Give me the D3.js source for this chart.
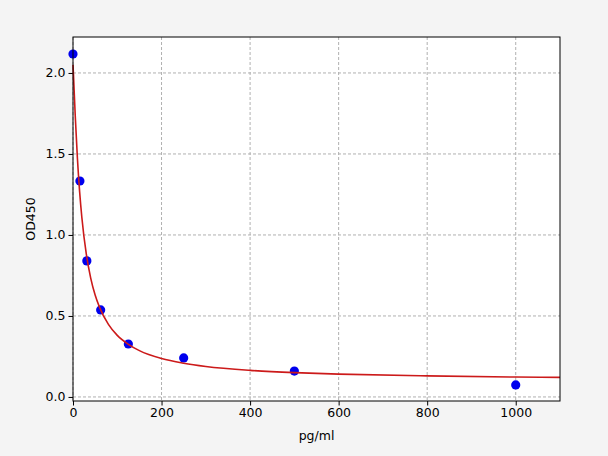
<!DOCTYPE html>
<html>
<head>
<meta charset="utf-8">
<script src="https://cdn.jsdelivr.net/npm/d3@7"></script>
<style>
  body { margin: 0; background: #f4f4f4; }
  text { font-family: "DejaVu Sans", sans-serif; }
</style>
</head>
<body>
<div id="chart"></div>
<script>

// measured standards
var concX = [0, 15.625, 31.25, 62.5, 125, 250, 500, 1000];
var odY   = [2.117, 1.333, 0.84, 0.537, 0.327, 0.241, 0.16, 0.074];

// fitted curve
var curveX = [0, 1, 2, 5, 10, 15, 20, 30, 40, 50, 60, 80, 100, 125, 150, 200, 250, 300, 400, 500, 600, 800, 1000, 1100];
var curveY = [2.05, 1.994, 1.929, 1.739, 1.472, 1.266, 1.108, 0.883, 0.734, 0.629, 0.553, 0.448, 0.38, 0.325, 0.286, 0.237, 0.208, 0.188, 0.164, 0.15, 0.141, 0.13, 0.123, 0.121];

var xTicks = [0, 200, 400, 600, 800, 1000];
var yTicks = [0.0, 0.5, 1.0, 1.5, 2.0];

var W = 608, H = 456;
var margin = {top: 37, right: 48, bottom: 55, left: 73},
    width = W - margin.left - margin.right,
    height = H - margin.top - margin.bottom;

var svg = d3.select("#chart")
  .append("svg")
    .attr("width", W)
    .attr("height", H)
  .append("g")
    .attr("transform", "translate(" + margin.left + "," + margin.top + ")");

var x = d3.scaleLinear().domain([0, 1100]).range([0, width]);
var y = d3.scaleLinear().domain([-0.025, 2.222]).range([height, 0]);

svg.append("rect")
  .attr("width", width)
  .attr("height", height)
  .attr("fill", "#fff");

// grid
svg.append("g")
  .selectAll("line")
  .data(xTicks)
  .enter().append("line")
    .attr("x1", function(d) { return x(d); })
    .attr("x2", function(d) { return x(d); })
    .attr("y1", 0)
    .attr("y2", height)
    .attr("stroke", "#b0b0b0")
    .attr("stroke-dasharray", "3,2");

svg.append("g")
  .selectAll("line")
  .data(yTicks)
  .enter().append("line")
    .attr("x1", 0)
    .attr("x2", width)
    .attr("y1", function(d) { return y(d); })
    .attr("y2", function(d) { return y(d); })
    .attr("stroke", "#b0b0b0")
    .attr("stroke-dasharray", "3,2");

// axes
var xAxis = d3.axisBottom(x).tickValues(xTicks).tickSize(4.5).tickPadding(3).tickFormat(d3.format("d"));
var yAxis = d3.axisLeft(y).tickValues(yTicks).tickSize(4.5).tickPadding(3).tickFormat(d3.format(".1f"));

var gx = svg.append("g")
  .attr("transform", "translate(0," + height + ")")
  .call(xAxis);
var gy = svg.append("g").call(yAxis);

[gx, gy].forEach(function(g) {
  g.select(".domain").remove();
  g.selectAll("line").attr("stroke", "#000");
  g.selectAll("text")
    .attr("fill", "#000")
    .style("font-size", "12.5px")
    .style("font-family", "DejaVu Sans, sans-serif");
});

// points
svg.append("g")
  .selectAll("circle")
  .data(concX)
  .enter().append("circle")
    .attr("cx", function(d) { return x(d); })
    .attr("cy", function(d, i) { return y(odY[i]); })
    .attr("r", 4.6)
    .attr("fill", "#0000ee");

// curve
var line = d3.line()
  .x(function(d) { return x(d); })
  .y(function(d, i) { return y(curveY[i]); })
  .curve(d3.curveMonotoneX);

svg.append("path")
  .datum(curveX)
  .attr("d", line)
  .attr("fill", "none")
  .attr("stroke", "#cc1a1a")
  .attr("stroke-width", 1.6);

// frame
svg.append("rect")
  .attr("width", width)
  .attr("height", height)
  .attr("fill", "none")
  .attr("stroke", "#000")
  .attr("stroke-width", 1);

// labels
svg.append("text")
  .attr("x", width / 2)
  .attr("y", height + 39)
  .attr("text-anchor", "middle")
  .style("font-size", "12.5px")
  .text("pg/ml");

svg.append("text")
  .attr("transform", "translate(" + (-38) + "," + (height / 2) + ") rotate(-90)")
  .attr("text-anchor", "middle")
  .style("font-size", "12.5px")
  .text("OD450");

</script>
</body>
</html>
